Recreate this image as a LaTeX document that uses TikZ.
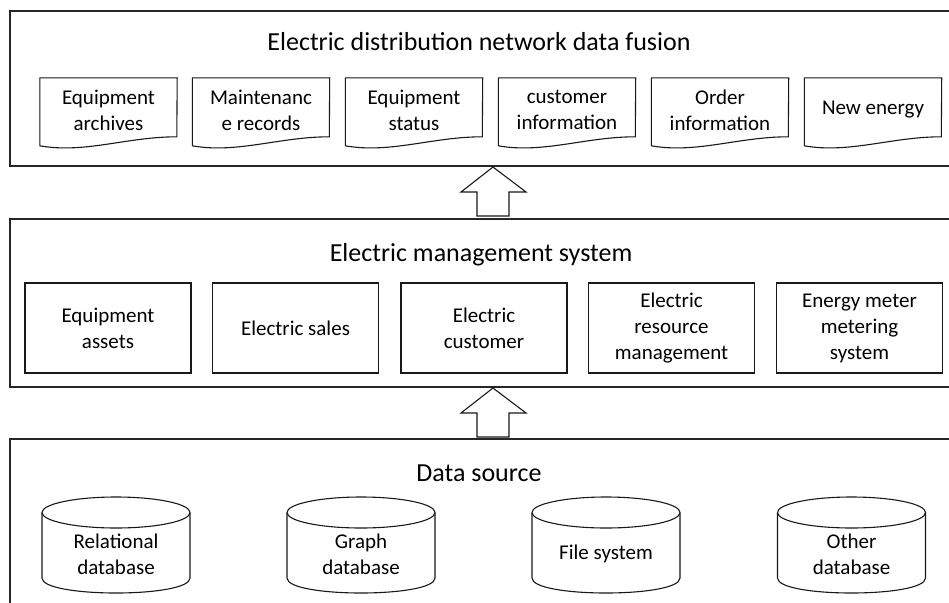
\documentclass[tikz,border=0pt]{standalone}
\usepackage{fontspec}
\setmainfont{Carlito}
\begin{document}
\begin{tikzpicture}[x=1pt,y=-1pt,
  layer/.style={draw=black!85,line width=1.4pt},
  heading/.style={anchor=base,font=\fontsize{26}{30}\selectfont},
  docbox/.style={minimum width=137pt,minimum height=64pt,inner sep=0pt,align=center,
    font=\fontsize{21}{26}\selectfont},
  docline/.style={draw=black!90,line width=1.1pt},
  unitbox/.style={draw=black!90,line width=1.1pt,minimum width=166pt,minimum height=90pt,
    inner sep=0pt,align=center,font=\fontsize{21}{26}\selectfont},
  dbtext/.style={align=center,font=\fontsize{21}{26}\selectfont},
  dbline/.style={draw=black!90,line width=1.1pt},
  blockarrow/.style={draw=black!90,line width=1.1pt,fill=white,line join=miter}]
\useasboundingbox (0,0) rectangle (949,602);
\clip (0,0) rectangle (949,602);

% three layers (they run on past the right and bottom edges)
\draw[layer] (10,11) rectangle (975,166);
\draw[layer] (10,219) rectangle (975,387);
\draw[layer] (10,439) rectangle (975,640);

% ---- top layer: data fusion ----
\node[heading] (fusion) at (479,50) {Electric distribution network data fusion};
\node[docbox] (d1) at (108.5,110) {Equipment\\archives};
\node[docbox] (d2) at (261,110) {Maintenanc\\e records};
\node[docbox] (d3) at (414,110) {Equipment\\status};
\node[docbox] (d4) at (567,110) {customer\\information};
\node[docbox] (d5) at (720,110) {Order\\information};
\node[docbox] (d6) at (873,110) {\raisebox{-3pt}{New energy}};
\foreach \n in {d1,d2,d3,d4,d5,d6}{
  \draw[docline] (\n.north east) -- (\n.north west) -- ++(0,68)
    .. controls +(45,8) and +(-50,0) .. ++(137,-9) -- cycle;
}

% ---- middle layer: management system ----
\node[heading] (mgmt) at (481,261) {Electric management system};
\node[unitbox] (u1) at (108,328) {Equipment\\assets};
\node[unitbox] (u2) at (295.5,328) {\raisebox{-2pt}{Electric sales}};
\node[unitbox] (u3) at (484,328) {Electric\\customer};
\node[unitbox] (u4) at (671.5,328) {Electric\\resource\\management};
\node[unitbox] (u5) at (859.5,328) {Energy meter\\metering\\system};

% ---- bottom layer: data source ----
\node[heading] (source) at (479,481) {Data source};
\foreach \cx/\nm/\txt in {116/c1/{Relational\\database},361/c2/{Graph\\database},
                          606/c3/{File system},851.5/c4/{Other\\database}}{
  \draw[dbline] (\cx,512.5) ellipse [x radius=74,y radius=15.5];
  \draw[dbline] (\cx-74,512.5) -- (\cx-74,578)
    .. controls (\cx-74,598) and (\cx+74,598) .. (\cx+74,578) -- (\cx+74,512.5);
  \node[dbtext] (\nm) at (\cx,554) {\txt};
}

% ---- hollow block arrows between layers ----
\coordinate (tipA) at (493,167);
\coordinate (tipB) at (493,388);
\draw[blockarrow] (tipA) -- ++(33,25) -- ++(-17,0) -- ++(0,24) -- ++(-32,0)
  -- ++(0,-24) -- ++(-16,0) -- cycle;
\draw[blockarrow] (tipB) -- ++(33,25) -- ++(-17,0) -- ++(0,24) -- ++(-32,0)
  -- ++(0,-24) -- ++(-16,0) -- cycle;
\end{tikzpicture}
\end{document}
